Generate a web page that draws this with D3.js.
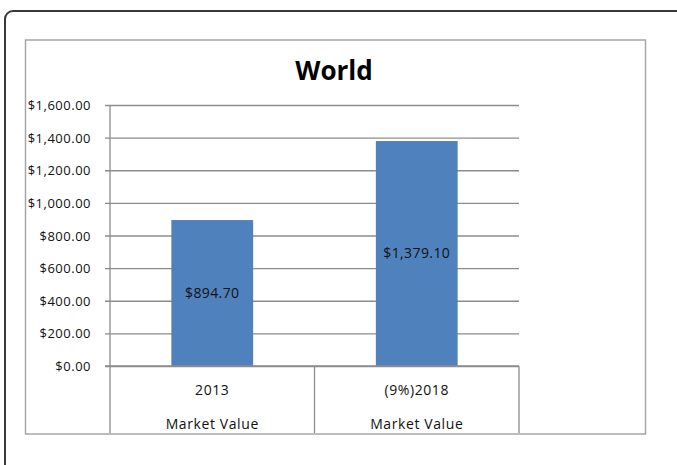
<!DOCTYPE html>
<html>
<head>
<meta charset="utf-8">
<script src="https://cdn.jsdelivr.net/npm/d3@7"></script>
<style>
  body { margin: 0; background: #fff; }
  svg { display: block; }
  text { font-family: "Open Sans", "Lato", sans-serif; fill: #111; }
</style>
</head>
<body>
<svg id="chart" width="677" height="465"></svg>
<script>
// chart data
var categories = ["2013", "(9%)2018"];
var subLabels = ["Market Value", "Market Value"];
var values = [894.7, 1379.1];
var valueLabels = ["$894.70", "$1,379.10"];
var yTicks = [0, 200, 400, 600, 800, 1000, 1200, 1400, 1600];

var svg = d3.select("#chart");

// outer rounded frame (runs off the page on right and bottom)
svg.append("rect")
    .attr("x", 5).attr("y", 11)
    .attr("width", 680).attr("height", 470)
    .attr("rx", 8)
    .attr("fill", "#fff")
    .attr("stroke", "#3a3a3a")
    .attr("stroke-width", 2);

// chart area box
svg.append("rect")
    .attr("x", 25.5).attr("y", 40)
    .attr("width", 620).attr("height", 394)
    .attr("fill", "#fff")
    .attr("stroke", "#a6a6a6")
    .attr("stroke-width", 1.5);

var plot = { left: 110, right: 519, top: 105, bottom: 366, axisBottom: 433 };

var x = d3.scaleBand()
    .domain(categories)
    .range([plot.left, plot.right])
    .paddingInner(0.6)
    .paddingOuter(0.3);

var y = d3.scaleLinear()
    .domain([0, 1600])
    .range([plot.bottom, plot.top]);

// gridlines + tick marks
var yAxis = d3.axisLeft(y)
    .tickValues(yTicks)
    .tickSize(-(plot.right - plot.left))
    .tickFormat(function (d) { return "$" + d3.format(",.2f")(d); });

var gy = svg.append("g")
    .attr("transform", "translate(" + plot.left + ",0)")
    .call(yAxis);
gy.select(".domain").remove();
gy.selectAll(".tick line")
    .attr("x1", -5)
    .attr("stroke", "#8c8c8c")
    .attr("stroke-width", 1.3);
gy.selectAll(".tick text")
    .attr("x", -19)
    .attr("dy", "0.35em")
    .style("font-size", "13px")
    .style("letter-spacing", "0.5px")
    .style("fill", "#111");

// bars
svg.append("g").selectAll("rect")
    .data(values)
    .join("rect")
    .attr("x", function (d, i) { return x(categories[i]); })
    .attr("y", function (d) { return y(d); })
    .attr("width", x.bandwidth())
    .attr("height", function (d) { return y(0) - y(d); })
    .attr("fill", "#4f81bd");

// data labels in the middle of each bar
svg.append("g").selectAll("text")
    .data(values)
    .join("text")
    .attr("x", function (d, i) { return x(categories[i]) + x.bandwidth() / 2; })
    .attr("y", function (d) { return (y(d) + y(0)) / 2; })
    .attr("dy", "0.35em")
    .attr("text-anchor", "middle")
    .style("font-size", "14px")
    .style("letter-spacing", "0.4px")
    .text(function (d, i) { return valueLabels[i]; });

// category axis: baseline, vertical dividers and two label rows
var axisG = svg.append("g").attr("stroke", "#8c8c8c").attr("stroke-width", 1.3);
axisG.append("line")
    .attr("x1", plot.left - 5).attr("x2", plot.right)
    .attr("y1", plot.bottom).attr("y2", plot.bottom);
var dividers = [plot.left].concat(categories.map(function (c) {
    return x(c) + x.bandwidth() / 2 + x.step() / 2;
}));
axisG.selectAll(".div")
    .data(dividers)
    .join("line")
    .attr("x1", function (d) { return d; }).attr("x2", function (d) { return d; })
    .attr("y1", function (d, i) { return i === 0 ? plot.top : plot.bottom; })
    .attr("y2", plot.axisBottom);

svg.append("g").selectAll("text")
    .data(categories)
    .join("text")
    .attr("x", function (d) { return x(d) + x.bandwidth() / 2; })
    .attr("y", 390)
    .attr("dy", "0.35em")
    .attr("text-anchor", "middle")
    .style("font-size", "14px")
    .style("letter-spacing", "0.6px")
    .text(function (d) { return d; });

svg.append("g").selectAll("text")
    .data(subLabels)
    .join("text")
    .attr("x", function (d, i) { return x(categories[i]) + x.bandwidth() / 2; })
    .attr("y", 424)
    .attr("dy", "0.35em")
    .attr("text-anchor", "middle")
    .style("font-size", "14px")
    .style("letter-spacing", "0.6px")
    .text(function (d) { return d; });

// title
svg.append("text")
    .attr("x", 334)
    .attr("y", 80)
    .attr("text-anchor", "middle")
    .style("font-size", "26px")
    .style("font-weight", "bold")
    .style("fill", "#000")
    .text("World");
</script>
</body>
</html>
